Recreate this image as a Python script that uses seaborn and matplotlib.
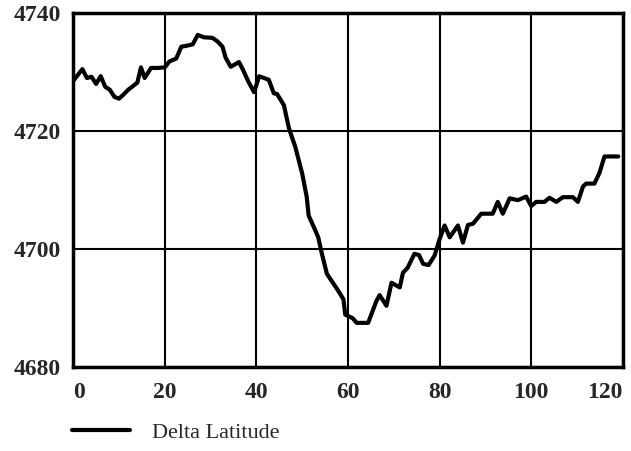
import matplotlib
matplotlib.use("Agg")
import matplotlib.pyplot as plt
import seaborn as sns
import pandas as pd

# values
step = [0, 1, 2, 3, 4, 5, 6, 7, 8, 9, 10, 11, 12, 13, 14, 14.8, 15.6, 17, 18.5, 20,
        21, 22.5, 23.6, 25, 26.1, 27.2, 28.5, 30.4, 31.5, 32.6, 33.3, 34.4, 35.3, 36.2,
        37, 38.3, 39.5, 40.6, 42.7, 43.8, 44.5, 46, 47.1, 48.5, 50, 51, 51.4, 52.9,
        53.5, 54.3, 55.4, 57.9, 59, 59.4, 61, 61.9, 64.4, 66.2, 66.9, 68.4, 69.5, 71.3,
        72, 73, 74.5, 75.5, 76.4, 77.6, 78.9, 80, 81.1, 82.2, 84, 85.1, 86.2, 87.3,
        89.1, 91.6, 92.7, 93.8, 95.3, 97.1, 98.9, 100, 101.1, 102.9, 104, 105.5, 106.9,
        109.1, 110.2, 111.3, 112, 113.8, 114.9, 116, 119]
delta_lat = [4728.5, 4729.5, 4730.5, 4729.0, 4729.2, 4728.0, 4729.3, 4727.5, 4727.0,
             4725.8, 4725.5, 4726.2, 4727.0, 4727.6, 4728.2, 4730.8, 4729.0, 4730.7,
             4730.7, 4730.8, 4731.8, 4732.3, 4734.3, 4734.5, 4734.7, 4736.3, 4735.9,
             4735.8, 4735.2, 4734.3, 4732.4, 4730.9, 4731.3, 4731.7, 4730.5, 4728.3,
             4726.6, 4729.3, 4728.7, 4726.4, 4726.3, 4724.4, 4720.5, 4717.3, 4712.8,
             4708.8, 4705.7, 4703.1, 4702.0, 4699.2, 4695.8, 4692.9, 4691.5, 4688.9,
             4688.3, 4687.5, 4687.5, 4691.2, 4692.2, 4690.4, 4694.3, 4693.5, 4696.0,
             4696.8, 4699.2, 4699.0, 4697.5, 4697.3, 4698.9, 4701.7, 4704.0, 4702.0,
             4704.0, 4701.1, 4704.1, 4704.3, 4706.0, 4706.0, 4708.0, 4706.0, 4708.6,
             4708.3, 4708.9, 4707.3, 4708.0, 4708.0, 4708.7, 4708.0, 4708.8, 4708.8,
             4708.0, 4710.6, 4711.1, 4711.1, 4712.9, 4715.7, 4715.7]

x_ticks = [0, 20, 40, 60, 80, 100, 120]
y_ticks = [4680, 4700, 4720, 4740]

df = pd.DataFrame({"step": step, "Delta Latitude": delta_lat})

sns.set_style("white")
plt.rcParams["font.family"] = ["Liberation Serif", "DejaVu Serif"]

fig = plt.figure(figsize=(6.31, 4.51), dpi=100)
ax = fig.add_axes([0.116, 0.186, 0.871, 0.785])

sns.lineplot(data=df, x="step", y="Delta Latitude", estimator=None, sort=False,
             color="black", linewidth=3, label="Delta Latitude", legend=False, ax=ax)

ax.set_xlim(0, 120)
ax.set_ylim(4680, 4740)
ax.set_xticks(x_ticks)
ax.set_yticks(y_ticks)
ax.set_xlabel("")
ax.set_ylabel("")
ax.grid(True, color="black", linewidth=1.5)
ax.tick_params(length=0, labelsize=17)
ax.tick_params(axis="x", pad=11)
ax.tick_params(axis="y", pad=9)
for lab in ax.get_xticklabels() + ax.get_yticklabels():
    lab.set_fontweight("bold")
xlabs = ax.get_xticklabels()
xlabs[0].set_horizontalalignment("left")
xlabs[-1].set_horizontalalignment("right")

for side in ["left", "right", "top", "bottom"]:
    ax.spines[side].set_visible(True)
    ax.spines[side].set_color("black")
    ax.spines[side].set_linewidth(2.5)

handles, labels = ax.get_legend_handles_labels()
fig.legend(handles, labels, loc="center left", bbox_to_anchor=(0.114, 0.04),
           frameon=False, fontsize=16, handlelength=2.6, handletextpad=1.0,
           borderpad=0, borderaxespad=0)

fig.savefig("out.png", dpi=100)
